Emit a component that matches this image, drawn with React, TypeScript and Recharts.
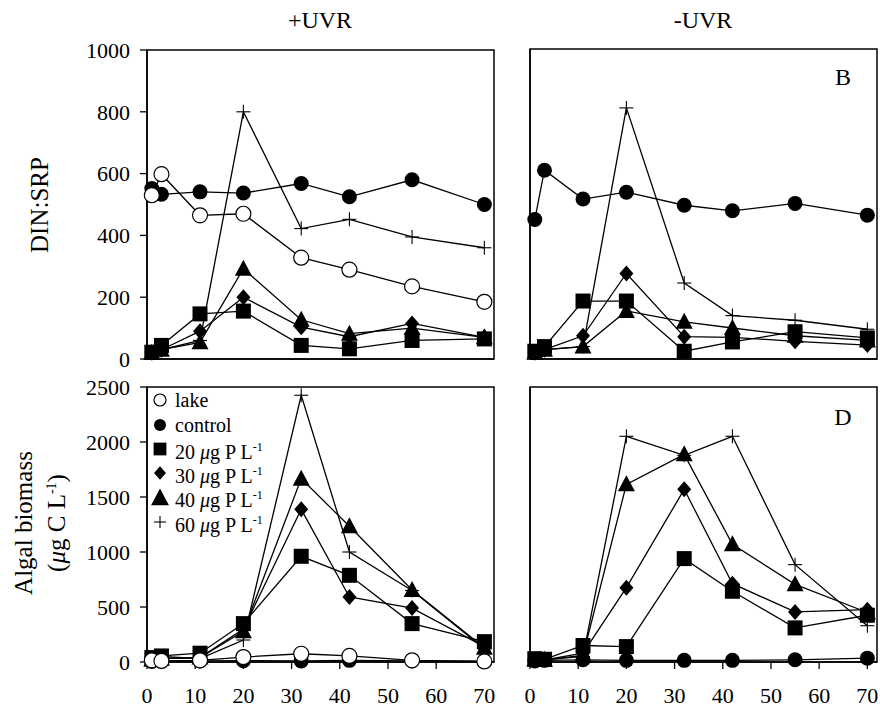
import React from "react";
import {
  Legend,
  Line,
  LineChart,
  ReferenceArea,
  XAxis,
  YAxis,
} from "recharts";

// sampling days (x axis)
const days = [1, 3, 11, 20, 32, 42, 55, 70];
const xTicks = [0, 10, 20, 30, 40, 50, 60, 70];
const dinTicks = [0, 200, 400, 600, 800, 1000];
const algTicks = [0, 500, 1000, 1500, 2000, 2500];

// DIN:SRP, +UVR
const dinPlusLake = [530, 598, 465, 470, 328, 289, 235, 185];
const dinPlusControl = [552, 533, 541, 537, 568, 525, 580, 500];
const dinPlusP20 = [22, 44, 146, 155, 44, 33, 60, 65];
const dinPlusP30 = [20, 30, 90, 200, 103, 72, 115, 70];
const dinPlusP40 = [20, 30, 54, 292, 127, 82, 100, 70];
const dinPlusP60 = [20, 30, 60, 800, 422, 452, 395, 360];

// DIN:SRP, -UVR
const dinMinusControl = [450, 609, 516, 538, 496, 478, 502, 464];
const dinMinusP20 = [25, 40, 187, 187, 25, 55, 88, 68];
const dinMinusP30 = [20, 30, 75, 276, 72, 70, 57, 45];
const dinMinusP40 = [20, 30, 40, 155, 120, 100, 75, 60];
const dinMinusP60 = [20, 30, 40, 810, 245, 140, 125, 96];

// algal biomass, +UVR
const algPlusLake = [15, 10, 15, 45, 75, 55, 15, 5];
const algPlusControl = [5, 8, 10, 12, 10, 15, 10, 8];
const algPlusP20 = [40, 55, 80, 349, 961, 788, 349, 185];
const algPlusP30 = [20, 30, 40, 300, 1388, 591, 490, 140];
const algPlusP40 = [20, 30, 40, 280, 1667, 1234, 655, 130];
const algPlusP60 = [20, 50, 30, 200, 2425, 1000, 650, 120];

// algal biomass, -UVR
const algMinusControl = [10, 15, 20, 15, 15, 15, 20, 35];
const algMinusP20 = [30, 25, 150, 140, 940, 643, 310, 425];
const algMinusP30 = [20, 20, 80, 676, 1570, 712, 455, 476];
const algMinusP40 = [20, 20, 60, 1615, 1888, 1070, 706, 450];
const algMinusP60 = [20, 20, 50, 2052, 1879, 2052, 885, 330];

const FONT = "'Liberation Serif', 'Times New Roman', serif";

type Kind = "open" | "filled" | "square" | "diamond" | "triangle" | "plus";

const seriesDefs: { key: string; kind: Kind; label: React.ReactNode }[] = [
  { key: "p60", kind: "plus", label: <>60 <i>μ</i>g P L<sup style={{ fontSize: 12 }}>-1</sup></> },
  { key: "p40", kind: "triangle", label: <>40 <i>μ</i>g P L<sup style={{ fontSize: 12 }}>-1</sup></> },
  { key: "p30", kind: "diamond", label: <>30 <i>μ</i>g P L<sup style={{ fontSize: 12 }}>-1</sup></> },
  { key: "p20", kind: "square", label: <>20 <i>μ</i>g P L<sup style={{ fontSize: 12 }}>-1</sup></> },
  { key: "control", kind: "filled", label: "control" },
  { key: "lake", kind: "open", label: "lake" },
];
const legendOrder = ["lake", "control", "p20", "p30", "p40", "p60"];

function buildRows(cols: Record<string, number[]>) {
  return days.map((day, i) => {
    const row: Record<string, number> = { day };
    Object.keys(cols).forEach((k) => {
      row[k] = cols[k][i];
    });
    return row;
  });
}

const dinPlusRows = buildRows({
  lake: dinPlusLake,
  control: dinPlusControl,
  p20: dinPlusP20,
  p30: dinPlusP30,
  p40: dinPlusP40,
  p60: dinPlusP60,
});
const dinMinusRows = buildRows({
  control: dinMinusControl,
  p20: dinMinusP20,
  p30: dinMinusP30,
  p40: dinMinusP40,
  p60: dinMinusP60,
});
const algPlusRows = buildRows({
  lake: algPlusLake,
  control: algPlusControl,
  p20: algPlusP20,
  p30: algPlusP30,
  p40: algPlusP40,
  p60: algPlusP60,
});
const algMinusRows = buildRows({
  control: algMinusControl,
  p20: algMinusP20,
  p30: algMinusP30,
  p40: algMinusP40,
  p60: algMinusP60,
});

function Marker({ kind, cx, cy, s = 1 }: { kind: Kind; cx: number; cy: number; s?: number }) {
  switch (kind) {
    case "open":
      return <circle cx={cx} cy={cy} r={7.5 * s} fill="#fff" stroke="#000" strokeWidth={1.2} />;
    case "filled":
      return <circle cx={cx} cy={cy} r={7.5 * s} fill="#000" />;
    case "square":
      return <rect x={cx - 7.5 * s} y={cy - 7.5 * s} width={15 * s} height={15 * s} fill="#000" />;
    case "diamond":
      return (
        <polygon
          points={`${cx},${cy - 8 * s} ${cx + 7 * s},${cy} ${cx},${cy + 8 * s} ${cx - 7 * s},${cy}`}
          fill="#000"
        />
      );
    case "triangle":
      return (
        <polygon
          points={`${cx},${cy - 9 * s} ${cx + 8.5 * s},${cy + 7 * s} ${cx - 8.5 * s},${cy + 7 * s}`}
          fill="#000"
        />
      );
    default:
      return (
        <g stroke="#000" strokeWidth={1.1}>
          <line x1={cx - 7 * s} x2={cx + 7 * s} y1={cy} y2={cy} />
          <line x1={cx} x2={cx} y1={cy - 7 * s} y2={cy + 7 * s} />
        </g>
      );
  }
}

function LegendBox() {
  return (
    <div style={{ fontFamily: FONT, fontSize: 20, color: "#000" }}>
      {legendOrder.map((k) => {
        const def = seriesDefs.find((d) => d.key === k)!;
        const s = def.kind === "triangle" ? 1.05 : def.kind === "open" || def.kind === "filled" ? 0.8 : 0.85;
        return (
          <div key={k} style={{ display: "flex", alignItems: "center", height: 24.4 }}>
            <svg width={20} height={20} style={{ marginRight: 5 }}>
              <Marker kind={def.kind} cx={10} cy={10} s={s} />
            </svg>
            <span style={{ lineHeight: "20px" }}>{def.label}</span>
          </div>
        );
      })}
    </div>
  );
}

interface PanelProps {
  data: Record<string, number>[];
  keys: string[];
  left: number;
  top: number;
  width: number;
  height: number;
  marginTop: number;
  marginRight: number;
  yWidth: number;
  xHeight: number;
  yTicks: number[];
  yLabels: boolean;
  xLabels: boolean;
  legend?: boolean;
}

function Panel(p: PanelProps) {
  const yMax = p.yTicks[p.yTicks.length - 1];
  const tickStyle = { fontSize: 22, fill: "#000", fontFamily: FONT };
  return (
    <div style={{ position: "absolute", left: p.left, top: p.top }}>
      <LineChart
        width={p.width}
        height={p.height}
        data={p.data}
        margin={{ top: p.marginTop, right: p.marginRight, bottom: 0, left: 0 }}
      >
        <XAxis
          dataKey="day"
          type="number"
          domain={[0, 72]}
          ticks={xTicks}
          height={p.xHeight}
          tick={p.xLabels ? tickStyle : false}
          tickSize={7}
          tickMargin={18}
          axisLine={{ stroke: "#000", strokeWidth: 1.5 }}
          tickLine={{ stroke: "#000", strokeWidth: 1.3 }}
        />
        <YAxis
          type="number"
          domain={[0, yMax]}
          ticks={p.yTicks}
          width={p.yWidth}
          tick={p.yLabels ? tickStyle : false}
          tickSize={7}
          tickMargin={10}
          axisLine={{ stroke: "#000", strokeWidth: 1.5 }}
          tickLine={{ stroke: "#000", strokeWidth: 1.3 }}
        />
        <ReferenceArea x1={0} x2={72} y1={0} y2={yMax} fill="none" stroke="#000" strokeWidth={1.5} />
        {seriesDefs
          .filter((d) => p.keys.includes(d.key))
          .map((d) => (
            <Line
              key={d.key}
              dataKey={d.key}
              type="linear"
              stroke="#000"
              strokeWidth={1.3}
              isAnimationActive={false}
              activeDot={false}
              dot={(dp: any) =>
                dp.cx == null || dp.cy == null ? (
                  <g key={`${d.key}-${dp.index}`} />
                ) : (
                  <Marker key={`${d.key}-${dp.index}`} kind={d.kind} cx={dp.cx} cy={dp.cy} />
                )
              }
            />
          ))}
        {p.legend && (
          <Legend
            layout="vertical"
            align="center"
            verticalAlign="middle"
            wrapperStyle={{ left: 150, top: 18, width: 200 }}
            content={() => <LegendBox />}
          />
        )}
      </LineChart>
    </div>
  );
}

const textStyle: React.CSSProperties = {
  position: "absolute",
  fontFamily: FONT,
  color: "#000",
  whiteSpace: "nowrap",
  transform: "translate(-50%, -50%)",
};

export default function App() {
  return (
    <div
      style={{
        position: "absolute",
        left: 0,
        top: 0,
        width: 880,
        height: 712,
        background: "#fff",
        fontFamily: FONT,
      }}
    >
      <Panel
        data={dinPlusRows}
        keys={["lake", "control", "p20", "p30", "p40", "p60"]}
        left={0}
        top={0}
        width={500}
        height={400}
        marginTop={50}
        marginRight={6}
        yWidth={147}
        xHeight={41}
        yTicks={dinTicks}
        yLabels
        xLabels={false}
      />
      <Panel
        data={dinMinusRows}
        keys={["control", "p20", "p30", "p40", "p60"]}
        left={500}
        top={0}
        width={380}
        height={400}
        marginTop={49}
        marginRight={3}
        yWidth={30}
        xHeight={41}
        yTicks={dinTicks}
        yLabels={false}
        xLabels={false}
      />
      <Panel
        data={algPlusRows}
        keys={["lake", "control", "p20", "p30", "p40", "p60"]}
        left={0}
        top={370}
        width={500}
        height={342}
        marginTop={17}
        marginRight={6}
        yWidth={147}
        xHeight={50}
        yTicks={algTicks}
        yLabels
        xLabels
        legend
      />
      <Panel
        data={algMinusRows}
        keys={["control", "p20", "p30", "p40", "p60"]}
        left={500}
        top={370}
        width={380}
        height={342}
        marginTop={17}
        marginRight={3}
        yWidth={30}
        xHeight={50}
        yTicks={algTicks}
        yLabels={false}
        xLabels
      />

      <div style={{ ...textStyle, left: 320, top: 20, fontSize: 24 }}>+UVR</div>
      <div style={{ ...textStyle, left: 703, top: 20, fontSize: 24 }}>-UVR</div>
      <div style={{ ...textStyle, left: 843, top: 77, fontSize: 24 }}>B</div>
      <div style={{ ...textStyle, left: 843, top: 417, fontSize: 24 }}>D</div>
      <div style={{ ...textStyle, left: 40, top: 205, fontSize: 25, transform: "translate(-50%, -50%) rotate(-90deg)" }}>
        DIN:SRP
      </div>
      <div style={{ ...textStyle, left: 24, top: 523, fontSize: 25, transform: "translate(-50%, -50%) rotate(-90deg)" }}>
        Algal biomass
      </div>
      <div style={{ ...textStyle, left: 57, top: 523, fontSize: 25, transform: "translate(-50%, -50%) rotate(-90deg)" }}>
        (<i>μ</i>g C L<sup style={{ fontSize: 14 }}>-1</sup>)
      </div>
    </div>
  );
}
